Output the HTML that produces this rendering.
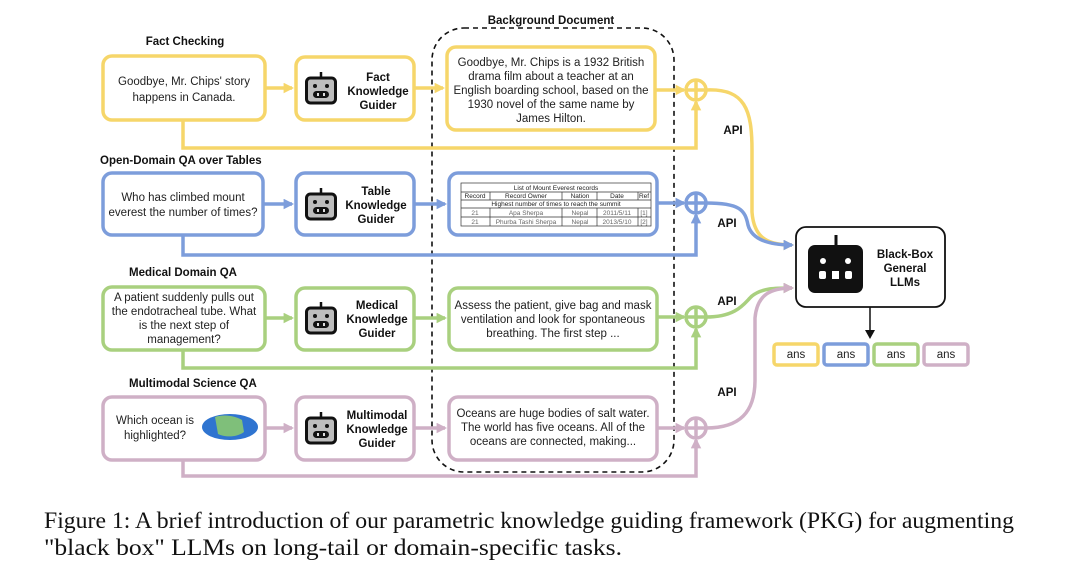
<!DOCTYPE html>
<html><head><meta charset="utf-8"><style>
html,body{margin:0;padding:0;background:#fff;}
svg{display:block;}
text{font-family:"Liberation Sans",sans-serif;}
.t{font-size:11.5px;fill:#222;text-anchor:middle;}
.b{font-size:11.5px;font-weight:bold;fill:#111;text-anchor:middle;}
.h{font-size:11.5px;font-weight:bold;fill:#111;}
.cap{font-family:"Liberation Serif",serif;font-size:23.6px;fill:#111;}
</style></head><body>
<svg width="1080" height="585" viewBox="0 0 1080 585" xmlns="http://www.w3.org/2000/svg">
<defs>
<g id="bot">
 <line x1="16" y1="0" x2="16" y2="6" stroke="#111" stroke-width="2.5"/>
 <rect x="1.5" y="6" width="29" height="25" rx="4" fill="#bdbdbd" stroke="#111" stroke-width="3"/>
 <circle cx="10" cy="14" r="2" fill="#111"/><circle cx="22" cy="14" r="2" fill="#111"/>
 <rect x="8" y="19" width="16" height="7" rx="3.5" fill="#111"/>
 <rect x="12" y="21" width="2" height="3" fill="#ddd"/><rect x="18" y="21" width="2" height="3" fill="#ddd"/>
</g>
<marker id="ay" viewBox="0 0 10 10" refX="8" refY="5" markerWidth="3" markerHeight="3" orient="auto"><path d="M0,0 L10,5 L0,10 Z" fill="#f6d66a"/></marker>
<marker id="ab" viewBox="0 0 10 10" refX="8" refY="5" markerWidth="3" markerHeight="3" orient="auto"><path d="M0,0 L10,5 L0,10 Z" fill="#7d9ddb"/></marker>
<marker id="ag" viewBox="0 0 10 10" refX="8" refY="5" markerWidth="3" markerHeight="3" orient="auto"><path d="M0,0 L10,5 L0,10 Z" fill="#a9d07f"/></marker>
<marker id="ap" viewBox="0 0 10 10" refX="8" refY="5" markerWidth="3" markerHeight="3" orient="auto"><path d="M0,0 L10,5 L0,10 Z" fill="#cfb0c6"/></marker>
</defs>

<rect x="432" y="28" width="242" height="444" rx="32" fill="none" stroke="#111" stroke-width="1.6" stroke-dasharray="5,4"/>
<text x="551" y="24" class="b">Background Document</text>

<!-- ROW 1 yellow -->
<g stroke="#f6d66a" fill="none" stroke-width="3.5">
 <rect x="103" y="56" width="162" height="64" rx="9" fill="#fff"/>
 <rect x="296" y="57" width="118" height="63" rx="9" fill="#fff"/>
 <rect x="447" y="47" width="208" height="83" rx="9" fill="#fff"/>
 <line x1="265" y1="88" x2="292" y2="88" marker-end="url(#ay)"/><line x1="414" y1="88" x2="443" y2="88" marker-end="url(#ay)"/>
 <line x1="655" y1="90" x2="684" y2="90" marker-end="url(#ay)"/>
 <circle cx="696" cy="90" r="10"/><line x1="686" y1="90" x2="706" y2="90"/><line x1="696" y1="80" x2="696" y2="100"/>
 <path d="M183,120 V148 H696 V102" marker-end="url(#ay)"/>
 <path d="M706,90 C745,88 752,110 752,150 L752,212 C754,240 770,245 792,245" marker-end="url(#ay)"/>
</g>
<text x="185" y="45" class="h" text-anchor="middle">Fact Checking</text>
<text x="184" y="85" class="t">Goodbye, Mr. Chips' story</text>
<text x="184" y="101" class="t">happens in Canada.</text>
<use href="#bot" x="305" y="72"/>
<text x="378" y="81" class="b">Fact</text><text x="378" y="95" class="b">Knowledge</text><text x="378" y="109" class="b">Guider</text>
<text x="551" y="66" class="t">Goodbye, Mr. Chips is a 1932 British</text>
<text x="551" y="80" class="t">drama film about a teacher at an</text>
<text x="551" y="94" class="t">English boarding school, based on the</text>
<text x="551" y="108" class="t">1930 novel of the same name by</text>
<text x="551" y="122" class="t">James Hilton.</text>
<text x="733" y="134" class="b">API</text>

<!-- ROW 2 blue -->
<g stroke="#7d9ddb" fill="none" stroke-width="3.5">
 <rect x="103" y="173" width="160" height="62" rx="9" fill="#fff"/>
 <rect x="296" y="173" width="118" height="62" rx="9" fill="#fff"/>
 <rect x="449" y="173" width="208" height="62" rx="9" fill="#fff"/>
 <line x1="263" y1="204" x2="292" y2="204" marker-end="url(#ab)"/><line x1="414" y1="204" x2="445" y2="204" marker-end="url(#ab)"/>
 <line x1="657" y1="203" x2="684" y2="203" marker-end="url(#ab)"/>
 <circle cx="696" cy="203" r="10"/><line x1="686" y1="203" x2="706" y2="203"/><line x1="696" y1="193" x2="696" y2="213"/>
 <path d="M183,235 V255 H696 V215" marker-end="url(#ab)"/>
 <path d="M706,203 C740,203 745,210 748,225 C752,240 770,245 792,245" marker-end="url(#ab)"/>
</g>
<text x="100" y="164" class="h">Open-Domain QA over Tables</text>
<text x="183" y="201" class="t">Who has climbed mount</text>
<text x="183" y="216" class="t">everest the number of times?</text>
<use href="#bot" x="305" y="188"/>
<text x="376" y="195" class="b">Table</text><text x="376" y="209" class="b">Knowledge</text><text x="376" y="223" class="b">Guider</text>
<g stroke="#333" stroke-width="0.7" fill="none">
 <rect x="461" y="183" width="190" height="43"/>
 <line x1="461" y1="192" x2="651" y2="192"/><line x1="461" y1="200" x2="651" y2="200"/>
 <line x1="461" y1="208" x2="651" y2="208"/><line x1="461" y1="217" x2="651" y2="217"/>
 <line x1="490" y1="192" x2="490" y2="200"/><line x1="562" y1="192" x2="562" y2="200"/><line x1="597" y1="192" x2="597" y2="200"/><line x1="638" y1="192" x2="638" y2="200"/>
 <line x1="490" y1="208" x2="490" y2="226"/><line x1="562" y1="208" x2="562" y2="226"/><line x1="597" y1="208" x2="597" y2="226"/><line x1="638" y1="208" x2="638" y2="226"/>
</g>
<g font-size="6.5" fill="#222" text-anchor="middle">
<text x="556" y="190">List of Mount Everest records</text>
<text x="475" y="198">Record</text><text x="526" y="198">Record  Owner</text><text x="580" y="198">Nation</text><text x="617" y="198">Date</text><text x="644" y="198">Ref</text>
<text x="556" y="206">Highest number of times to reach the summit</text>
<g fill="#666"><text x="475" y="215">21</text><text x="526" y="215">Apa Sherpa</text><text x="580" y="215">Nepal</text><text x="617" y="215">2011/5/11</text><text x="644" y="215">[1]</text>
<text x="475" y="224">21</text><text x="526" y="224">Phurba Tashi Sherpa</text><text x="580" y="224">Nepal</text><text x="617" y="224">2013/5/10</text><text x="644" y="224">[2]</text></g>
</g>
<text x="727" y="227" class="b">API</text>

<!-- ROW 3 green -->
<g stroke="#a9d07f" fill="none" stroke-width="3.5">
 <rect x="103" y="287" width="162" height="63" rx="9" fill="#fff"/>
 <rect x="296" y="288" width="118" height="62" rx="9" fill="#fff"/>
 <rect x="449" y="288" width="208" height="62" rx="9" fill="#fff"/>
 <line x1="265" y1="318" x2="292" y2="318" marker-end="url(#ag)"/><line x1="414" y1="318" x2="445" y2="318" marker-end="url(#ag)"/>
 <line x1="657" y1="317" x2="684" y2="317" marker-end="url(#ag)"/>
 <circle cx="696" cy="317" r="10"/><line x1="686" y1="317" x2="706" y2="317"/><line x1="696" y1="307" x2="696" y2="327"/>
 <path d="M183,350 V368 H696 V329" marker-end="url(#ag)"/>
 <path d="M706,317 C738,317 745,302 752,296 C762,288 775,288 792,288" marker-end="url(#ag)"/>
</g>
<text x="129" y="276" class="h">Medical Domain QA</text>
<text x="184" y="301" class="t">A patient suddenly pulls out</text>
<text x="184" y="315" class="t">the endotracheal tube. What</text>
<text x="184" y="329" class="t">is the next step of</text>
<text x="184" y="343" class="t">management?</text>
<use href="#bot" x="305" y="302"/>
<text x="377" y="309" class="b">Medical</text><text x="377" y="323" class="b">Knowledge</text><text x="377" y="337" class="b">Guider</text>
<text x="553" y="309" class="t">Assess the patient, give bag and mask</text>
<text x="553" y="323" class="t">ventilation and look for spontaneous</text>
<text x="553" y="337" class="t">breathing. The first step ...</text>
<text x="727" y="305" class="b">API</text>

<!-- ROW 4 pink -->
<g stroke="#cfb0c6" fill="none" stroke-width="3.5">
 <rect x="103" y="397" width="162" height="63" rx="9" fill="#fff"/>
 <rect x="296" y="397" width="118" height="63" rx="9" fill="#fff"/>
 <rect x="449" y="397" width="208" height="63" rx="9" fill="#fff"/>
 <line x1="265" y1="428" x2="292" y2="428" marker-end="url(#ap)"/><line x1="414" y1="428" x2="445" y2="428" marker-end="url(#ap)"/>
 <line x1="657" y1="428" x2="684" y2="428" marker-end="url(#ap)"/>
 <circle cx="696" cy="428" r="10"/><line x1="686" y1="428" x2="706" y2="428"/><line x1="696" y1="418" x2="696" y2="438"/>
 <path d="M183,460 V476 H696 V440" marker-end="url(#ap)"/>
 <path d="M706,428 C740,428 755,412 755,380 L755,318 C757,295 770,288 792,288" marker-end="url(#ap)"/>
</g>
<text x="129" y="387" class="h">Multimodal Science QA</text>
<text x="155" y="424" class="t">Which ocean is</text>
<text x="155" y="439" class="t">highlighted?</text>
<ellipse cx="230" cy="427" rx="28" ry="13" fill="#2f74d0"/>
<path d="M215,417 C225,414 235,416 242,420 L244,432 C236,438 224,437 218,434 Z" fill="#7fbf7a"/>
<use href="#bot" x="305" y="412"/>
<text x="377" y="419" class="b">Multimodal</text><text x="377" y="433" class="b">Knowledge</text><text x="377" y="447" class="b">Guider</text>
<text x="553" y="417" class="t">Oceans are huge bodies of salt water.</text>
<text x="553" y="431" class="t">The world has five oceans. All of the</text>
<text x="553" y="445" class="t">oceans are connected, making...</text>
<text x="727" y="396" class="b">API</text>

<!-- Black box -->
<rect x="796" y="227" width="149" height="80" rx="10" fill="#fff" stroke="#111" stroke-width="1.8"/>
<line x1="836" y1="235" x2="836" y2="246" stroke="#111" stroke-width="3"/>
<rect x="808" y="245" width="55" height="48" rx="7" fill="#111"/>
<circle cx="823" cy="261" r="3" fill="#fff"/><circle cx="848" cy="261" r="3" fill="#fff"/>
<rect x="819" y="271" width="7" height="8" rx="2" fill="#fff"/><rect x="832" y="271" width="7" height="8" fill="#fff"/><rect x="845" y="271" width="7" height="8" rx="2" fill="#fff"/>
<text x="905" y="258" class="b">Black-Box</text><text x="905" y="272" class="b">General</text><text x="905" y="286" class="b">LLMs</text>
<line x1="870" y1="307" x2="870" y2="331" stroke="#111" stroke-width="1.5"/>
<path d="M865,330 L870,339 L875,330 Z" fill="#111"/>

<g stroke-width="3.5" fill="#fff">
 <rect x="774" y="344" width="44" height="21" rx="3" stroke="#f6d66a"/>
 <rect x="824" y="344" width="44" height="21" rx="3" stroke="#7d9ddb"/>
 <rect x="874" y="344" width="44" height="21" rx="3" stroke="#a9d07f"/>
 <rect x="924" y="344" width="44" height="21" rx="3" stroke="#cfb0c6"/>
</g>
<text x="796" y="358" class="t">ans</text><text x="846" y="358" class="t">ans</text><text x="896" y="358" class="t">ans</text><text x="946" y="358" class="t">ans</text>

<text x="44" y="528" class="cap" textLength="970" lengthAdjust="spacingAndGlyphs">Figure 1: A brief introduction of our parametric knowledge guiding framework (PKG) for augmenting</text>
<text x="44" y="555" class="cap" textLength="578" lengthAdjust="spacingAndGlyphs">"black box" LLMs on long-tail or domain-specific tasks.</text>
</svg>
</body></html>
